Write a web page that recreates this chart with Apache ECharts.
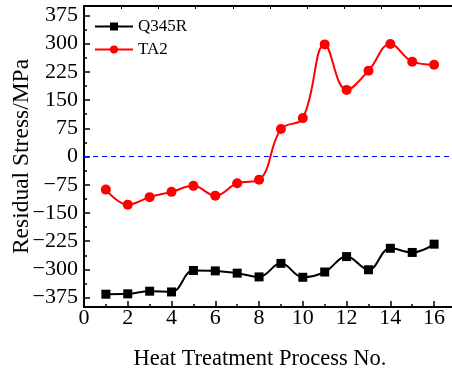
<!DOCTYPE html>
<html>
<head>
<meta charset="utf-8">
<script src="https://cdn.jsdelivr.net/npm/echarts@6/dist/echarts.min.js"></script>
<style>
html, body { margin: 0; padding: 0; background: #fff; }
#chart { width: 452px; height: 371px; }
</style>
</head>
<body>
<div id="chart"></div>
<script>
var processNo = [1, 2, 3, 4, 5, 6, 7, 8, 9, 10, 11, 12, 13, 14, 15, 16];
var q345r = [-366, -365, -358, -360, -303, -304, -310, -320, -284, -321, -307, -266, -301, -244, -255, -233];
var ta2 = [-88, -128, -108, -94, -78, -104, -71, -62, 73, 102, 298, 177, 228, 299, 252, 244];
var xMinor = [1, 3, 5, 7, 9, 11, 13, 15];
var yLabels = [-375, -300, -225, -150, -75, 0, 75, 150, 225, 300, 375];
var yMinor = [-337.5, -262.5, -187.5, -112.5, -37.5, 37.5, 112.5, 187.5, 262.5, 337.5];

var font = "Liberation Serif";

function pairs(ys) {
    return processNo.map(function (x, i) { return [x, ys[i]]; });
}

var chart = echarts.init(document.getElementById("chart"));
chart.setOption({
    animation: false,
    textStyle: { fontFamily: font },
    grid: { left: 84, right: -4, top: 6, bottom: 64, containLabel: false, outerBoundsMode: "none" },
    legend: {
        orient: "vertical",
        left: 89,
        top: 13,
        itemWidth: 38,
        itemHeight: 10,
        itemGap: 6,
        textStyle: { fontFamily: font, fontSize: 17, color: "#000" },
        data: ["Q345R", "TA2"]
    },
    xAxis: [
        {
            type: "value", min: 0, max: 17, interval: 2,
            name: "Heat Treatment Process No.",
            nameLocation: "middle",
            nameGap: 41,
            nameTextStyle: { fontFamily: font, fontSize: 22.5, color: "#000", padding: [0, 20, 0, 0] },
            axisLine: { onZero: false, lineStyle: { color: "#000", width: 2 } },
            axisTick: { inside: true, length: 6, lineStyle: { color: "#000", width: 1.5 } },
            axisLabel: { showMaxLabel: false, fontFamily: font, fontSize: 22, color: "#000", margin: 0 },
            splitLine: { show: false }
        },
        {
            type: "value", min: 0, max: 17, position: "bottom",
            axisLine: { show: false, onZero: false },
            axisTick: { inside: true, length: 3, customValues: xMinor, lineStyle: { color: "#000", width: 1.5 } },
            axisLabel: { show: false },
            splitLine: { show: false }
        },
        {
            type: "value", min: 0, max: 10, interval: 1, position: "top",
            axisLine: { onZero: false, lineStyle: { color: "#000", width: 2 } },
            axisTick: { inside: true, length: 3, lineStyle: { color: "#000", width: 1 } },
            axisLabel: { show: false },
            splitLine: { show: false }
        }
    ],
    yAxis: [
        {
            type: "value", min: -400, max: 400,
            name: "Residual Stress/MPa",
            nameLocation: "middle",
            nameGap: 50,
            nameMoveOverlap: false,
            nameTextStyle: { fontFamily: font, fontSize: 23.5, color: "#000" },
            axisLine: { show: true, onZero: false, lineStyle: { color: "#000", width: 2 } },
            axisTick: { inside: true, length: 6, customValues: yLabels, lineStyle: { color: "#000", width: 1.5 } },
            axisLabel: {
                customValues: yLabels, fontFamily: font, fontSize: 22, color: "#000", margin: 6,
                formatter: function (v) { return v < 0 ? "\u2212" + Math.abs(v) : String(v); }
            },
            splitLine: { show: false }
        },
        {
            type: "value", min: -400, max: 400, position: "left",
            axisLine: { show: false, onZero: false },
            axisTick: { show: true, inside: true, length: 3, customValues: yMinor, lineStyle: { color: "#000", width: 1.5 } },
            axisLabel: { show: false },
            splitLine: { show: false }
        }
    ],
    series: [
        {
            name: "Q345R",
            type: "line",
            smooth: 0.4,
            data: pairs(q345r),
            symbol: "rect",
            symbolSize: 9,
            itemStyle: { color: "#000" },
            lineStyle: { color: "#000", width: 2 },
            markLine: {
                silent: true,
                symbol: "none",
                label: { show: false },
                lineStyle: { color: "#0000ff", type: [5, 4], width: 1 },
                data: [{ yAxis: 0 }]
            }
        },
        {
            name: "TA2",
            type: "line",
            smooth: 0.4,
            data: pairs(ta2),
            symbol: "circle",
            symbolSize: 10,
            itemStyle: { color: "#ff0000" },
            lineStyle: { color: "#ff0000", width: 2 }
        }
    ]
});
</script>
</body>
</html>
